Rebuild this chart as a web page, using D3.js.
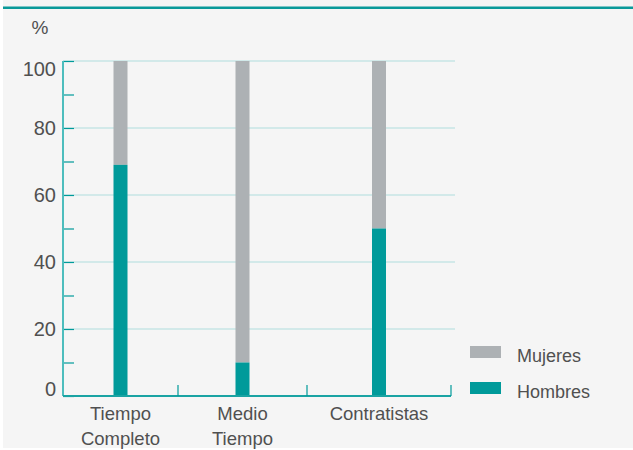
<!DOCTYPE html>
<html>
<head>
<meta charset="utf-8">
<script src="https://cdn.jsdelivr.net/npm/d3@7"></script>
<style>
  body { margin: 0; background: #fff; }
  text { font-family: "Liberation Sans", Arial, sans-serif; fill: #505050; }
</style>
</head>
<body>
<div id="chart"></div>
<script>
// Data: share of men / women per contract type (%)
const categories = ["Tiempo Completo", "Medio Tiempo", "Contratistas"]
const labelLines = [["Tiempo", "Completo"], ["Medio", "Tiempo"], ["Contratistas"]]
const hombres = [69, 10, 50]
const mujeres = [31, 90, 50]
const seriesNames = ["Mujeres", "Hombres"]
const yTicks = [0, 20, 40, 60, 80, 100]
const yMinor = [10, 30, 50, 70, 90]

const teal = "#009a9a"
const grey = "#adb1b4"

const W = 633, H = 450
const svg = d3.select("#chart").append("svg")
    .attr("width", W).attr("height", H)

// panel + top rule
svg.append("rect").attr("x", 3).attr("y", 0).attr("width", W - 3).attr("height", 448).attr("fill", "#f5f5f5")
svg.append("rect").attr("x", 3).attr("y", 6.5).attr("width", W - 3).attr("height", 2.5).attr("fill", "#0a9a9a")

const mLeft = 63, mRight = 451, mTop = 61, mBottom = 396

const y = d3.scaleLinear().domain([0, 100]).range([mBottom, mTop])

// bands are not equal width in the original
const edges = [mLeft, 178, 307, mRight]
const x = d3.scaleOrdinal().domain(categories)
    .range(categories.map((d, i) => (edges[i] + edges[i + 1]) / 2))

// gridlines
svg.append("g").selectAll("line")
    .data(yTicks.filter(d => d > 0))
    .join("line")
    .attr("x1", mLeft).attr("x2", 455)
    .attr("y1", d => y(d)).attr("y2", d => y(d))
    .attr("stroke", "#c6e4e4").attr("stroke-width", 1.5)

// y axis
const yAxis = d3.axisRight(y).tickValues(yTicks.concat(yMinor)).tickSize(11).tickFormat("")
const ya = svg.append("g").attr("transform", `translate(${mLeft},0)`).call(yAxis)
ya.select(".domain").remove()
ya.selectAll(".tick line").attr("stroke", teal).attr("stroke-width", 1.2)
svg.append("line").attr("x1", mLeft).attr("x2", mLeft).attr("y1", mTop).attr("y2", mBottom)
    .attr("stroke", "#4dbdbd").attr("stroke-width", 2)

// labels stay inside the axis range (100 sits below its line, 0 above)
svg.append("g").selectAll("text")
    .data(yTicks)
    .join("text")
    .attr("x", 56).attr("y", d => Math.max(mTop + 15, Math.min(mBottom, y(d) + 7)))
    .attr("text-anchor", "end")
    .attr("font-size", 20)
    .text(d => d)

svg.append("text").attr("x", 40).attr("y", 34).attr("text-anchor", "middle")
    .attr("font-size", 19).text("%")

// bars
const bw = 14
svg.append("g").selectAll("rect")
    .data(categories)
    .join("rect")
    .attr("x", d => x(d) - bw / 2).attr("width", bw)
    .attr("y", (d, i) => y(hombres[i] + mujeres[i]))
    .attr("height", (d, i) => y(hombres[i]) - y(hombres[i] + mujeres[i]))
    .attr("fill", grey)
svg.append("g").selectAll("rect")
    .data(categories)
    .join("rect")
    .attr("x", d => x(d) - bw / 2).attr("width", bw)
    .attr("y", (d, i) => y(hombres[i]))
    .attr("height", (d, i) => y(0) - y(hombres[i]))
    .attr("fill", teal)

// x axis
svg.append("line").attr("x1", mLeft).attr("x2", mRight).attr("y1", mBottom).attr("y2", mBottom)
    .attr("stroke", "#1aa3a3").attr("stroke-width", 2)
svg.append("g").selectAll("line")
    .data(edges.slice(1))
    .join("line")
    .attr("x1", d => d).attr("x2", d => d)
    .attr("y1", mBottom).attr("y2", mBottom - 11)
    .attr("stroke", teal).attr("stroke-width", 1.2)

const lab = svg.append("g").selectAll("text")
    .data(categories)
    .join("text")
    .attr("text-anchor", "middle")
    .attr("font-size", 18.5)
lab.each(function(d, i) {
    d3.select(this).selectAll("tspan")
        .data(labelLines[i])
        .join("tspan")
        .attr("x", x(d))
        .attr("y", (t, j) => 420 + j * 25)
        .text(t => t)
})

// legend
const lg = svg.append("g").selectAll("g")
    .data(seriesNames)
    .join("g")
    .attr("transform", (d, i) => `translate(470,${346 + i * 36})`)
lg.append("rect").attr("width", 31).attr("height", 12)
    .attr("fill", d => d === "Mujeres" ? grey : teal)
lg.append("text").attr("x", 47).attr("y", 15.5).attr("font-size", 18).text(d => d)
</script>
</body>
</html>
